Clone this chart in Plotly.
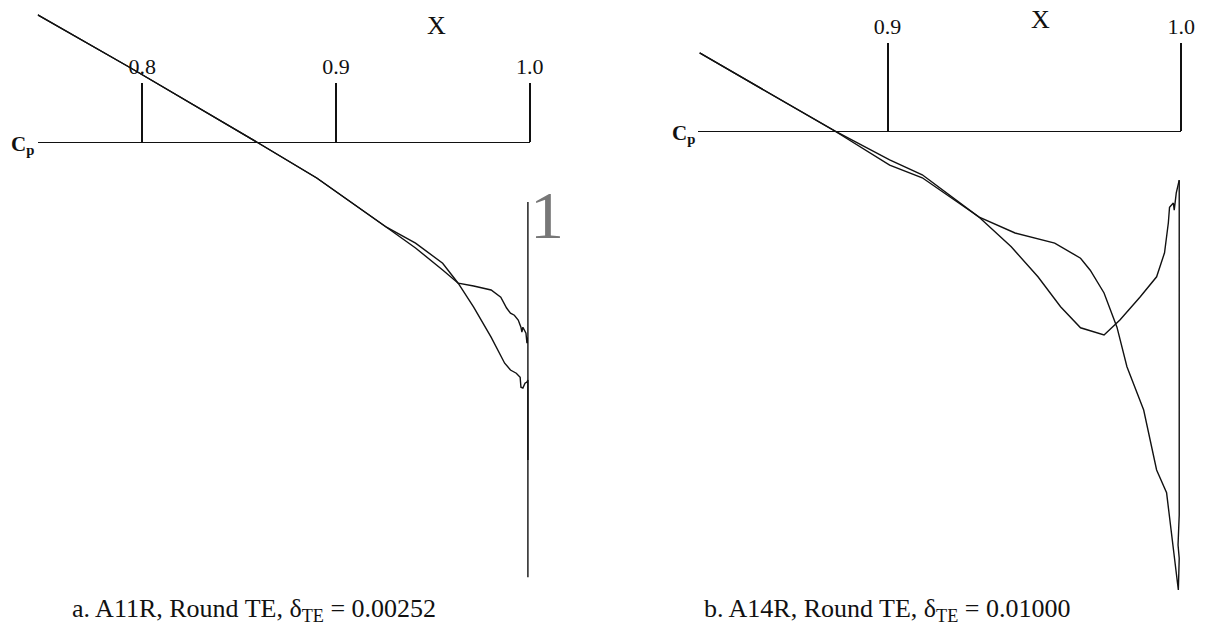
import plotly.graph_objects as go

# ---- a. A11R, round trailing edge (delta_TE = 0.00252) ----
a11r_s1_x = [0.746, 0.794, 0.859, 0.890, 0.926, 0.941, 0.955, 0.963, 0.971, 0.980,
             0.987, 0.990, 0.993, 0.995, 0.9954, 0.9964, 0.9975, 0.9985, 0.999, 0.999]
a11r_s1_cp = [-0.318, -0.185, 0.000, 0.090, 0.213, 0.253, 0.303, 0.353, 0.413, 0.488,
              0.553, 0.570, 0.578, 0.588, 0.613, 0.615, 0.603, 0.600, 0.595, 0.795]

a11r_s2_x = [0.746, 0.794, 0.859, 0.890, 0.926, 0.941, 0.955, 0.963, 0.971, 0.980,
             0.985, 0.988, 0.990, 0.992, 0.994, 0.9954, 0.9959, 0.9964, 0.998, 0.9985,
             0.999, 0.999, 0.999]
a11r_s2_cp = [-0.318, -0.185, 0.000, 0.090, 0.213, 0.265, 0.320, 0.353, 0.360, 0.370,
              0.388, 0.415, 0.428, 0.433, 0.445, 0.463, 0.475, 0.463, 0.478, 0.503,
              0.488, 0.150, 1.088]

# ---- b. A14R, round trailing edge (delta_TE = 0.01000) ----
a14r_s1_x = [0.836, 0.882, 0.9007, 0.9118, 0.931, 0.9434, 0.9569, 0.9657, 0.969, 0.9737,
             0.9781, 0.9815, 0.9872, 0.9916, 0.9950, 0.9966, 0.9976, 0.9983, 0.9990,
             0.9993, 0.9989, 0.9993, 0.9993]
a14r_s1_cp = [-0.130, 0.000, 0.048, 0.073, 0.143, 0.170, 0.187, 0.212, 0.232, 0.270,
              0.327, 0.393, 0.465, 0.565, 0.603, 0.670, 0.707, 0.732, 0.765,
              0.712, 0.690, 0.640, 0.082]

a14r_s2_x = [0.836, 0.882, 0.9007, 0.9118, 0.931, 0.9421, 0.9512, 0.9589, 0.9657, 0.9737,
             0.9791, 0.9859, 0.9916, 0.9943, 0.9956, 0.9960, 0.9973, 0.9976, 0.9983, 0.9993]
a14r_s2_cp = [-0.130, 0.000, 0.057, 0.078, 0.143, 0.193, 0.243, 0.293, 0.328, 0.340,
              0.315, 0.277, 0.243, 0.203, 0.153, 0.127, 0.120, 0.132, 0.103, 0.082]

x_ticks = [0.8, 0.9, 1.0]
x_tick_labels = ["0.8", "0.9", "1.0"]
captions = ["a. A11R, Round TE, δ<sub>TE</sub> = 0.00252",
            "b. A14R, Round TE, δ<sub>TE</sub> = 0.01000"]

W, H = 1219, 641
SERIF = "Liberation Serif, Times New Roman, serif"
INK = "#111111"

# axis windows (Cp is plotted increasing downward)
left_x_range = [0.7459, 1.0]
left_cp_range = [1.2475, -0.355]
right_x_range = [0.8354, 1.0]
right_cp_range = [0.85, -0.2183]


def zero_line_position(cp_range):
    # fraction of the plot height (from the bottom) where Cp = 0 sits
    return cp_range[0] / (cp_range[0] - cp_range[1])


fig = go.Figure()
line_style = dict(color=INK, width=1.4)
for xs, cps in [(a11r_s1_x, a11r_s1_cp), (a11r_s2_x, a11r_s2_cp)]:
    fig.add_trace(go.Scatter(x=xs, y=cps, mode="lines", line=line_style,
                             xaxis="x", yaxis="y", showlegend=False, hoverinfo="skip"))
for xs, cps in [(a14r_s1_x, a14r_s1_cp), (a14r_s2_x, a14r_s2_cp)]:
    fig.add_trace(go.Scatter(x=xs, y=cps, mode="lines", line=line_style,
                             xaxis="x2", yaxis="y2", showlegend=False, hoverinfo="skip"))

x_axis_common = dict(
    side="top", anchor="free",
    showline=True, linecolor=INK, linewidth=1.3,
    ticks="outside", tickwidth=1.5, tickcolor=INK,
    tickvals=x_ticks, ticktext=x_tick_labels,
    tickfont=dict(family=SERIF, size=22, color=INK),
    ticklabelstandoff=0,
    showgrid=False, zeroline=False, fixedrange=True,
)
y_axis_common = dict(domain=[0, 1], visible=False, showgrid=False,
                     zeroline=False, fixedrange=True)

fig.update_layout(
    width=W, height=H,
    margin=dict(l=0, r=0, t=0, b=0),
    paper_bgcolor="white", plot_bgcolor="white",
    xaxis=dict(**x_axis_common, ticklen=59, domain=[38 / W, 536 / W],
               range=left_x_range, position=zero_line_position(left_cp_range)),
    yaxis=dict(**y_axis_common, range=left_cp_range, anchor="x"),
    xaxis2=dict(**x_axis_common, ticklen=88, domain=[706 / W, 1195 / W],
                range=right_x_range, position=zero_line_position(right_cp_range)),
    yaxis2=dict(**y_axis_common, range=right_cp_range, anchor="x2"),
)

annotations = []
# X axis titles
for xref, ypx in [("x", 26), ("x2", 19)]:
    annotations.append(dict(text="X", x=0.952, xref=xref, y=1 - ypx / H, yref="paper",
                            showarrow=False, xanchor="center", yanchor="middle",
                            font=dict(family=SERIF, size=26, color=INK)))
# Cp labels at the start of each zero line
for xpx, yref in [(36, "y"), (705, "y2")]:
    annotations.append(dict(text="<b>C</b><sub><b>p</b></sub>", x=xpx / W, xref="paper",
                            y=0, yref=yref, showarrow=False, xanchor="right",
                            yanchor="middle", yshift=-3,
                            font=dict(family=SERIF, size=21, color=INK)))
# stray "1" beside the trailing edge of panel a
annotations.append(dict(text="1", x=553 / W, xref="paper", y=1 - 215 / H, yref="paper",
                        showarrow=False, xanchor="center", yanchor="middle",
                        font=dict(family=SERIF, size=68, color="#777777")))
# panel captions
for cap, xpx in zip(captions, [257, 897]):
    annotations.append(dict(text=cap, x=xpx / W, xref="paper", y=1 - 610 / H, yref="paper",
                            showarrow=False, xanchor="center", yanchor="middle",
                            font=dict(family=SERIF, size=26, color=INK)))
fig.update_layout(annotations=annotations)

fig.write_html("out.html")
